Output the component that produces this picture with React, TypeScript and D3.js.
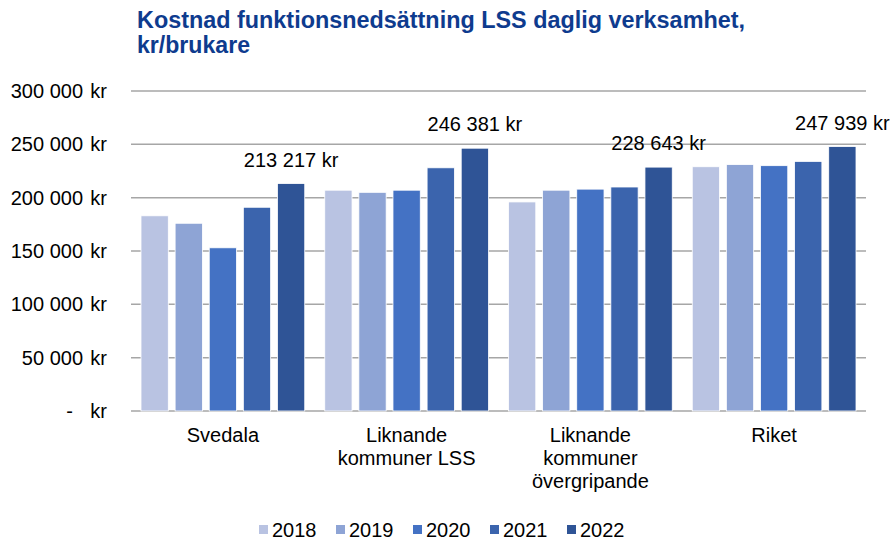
import { scaleBand, scaleLinear } from "d3"

const categories = [["Svedala"], ["Liknande", "kommuner LSS"], ["Liknande", "kommuner", "övergripande"], ["Riket"]]
const years = ["2018", "2019", "2020", "2021", "2022"]
const v2018 = [183000, 207000, 196000, 229000]
const v2019 = [176000, 205000, 207000, 231000]
const v2020 = [153000, 207000, 208000, 230000]
const v2021 = [191000, 228000, 210000, 234000]
const v2022 = [213217, 246381, 228643, 247939]
const yTicks = [0, 50000, 100000, 150000, 200000, 250000, 300000]
const colors = ["#B9C3E2", "#8EA4D5", "#4472C4", "#3B64AD", "#2F5496"]

const series = [v2018, v2019, v2020, v2021, v2022]
const fmt = (v: number) => String(v).replace(/\B(?=(\d{3})+(?!\d))/g, " ")
const FONT = "'Liberation Sans', Arial, sans-serif"

export default function App() {
  const W = 890, H = 540
  const left = 131, right = 866, top = 91, bottom = 411
  const catKeys = categories.map(c => c.join(" "))
  const x = scaleBand().domain(catKeys).range([left, right])
  const inner = scaleBand().domain(years).range([10, x.bandwidth() - 10]).paddingInner(0.2)
  const y = scaleLinear().domain([0, 300000]).range([bottom, top])

  return (
    <svg width={W} height={H} style={{ position: "absolute", left: 0, top: 0 }} fontFamily={FONT}>
      <rect width={W} height={H} fill="white" />
      <g fill="#0E3B8E" fontWeight="bold" fontSize="23" fontFamily="'Liberation Sans Narrow', 'Arial Narrow', 'Liberation Sans', sans-serif">
        <text x={137} y={28} textLength={608} lengthAdjust="spacingAndGlyphs">Kostnad funktionsnedsättning LSS daglig verksamhet,</text>
        <text x={137} y={53} textLength={113} lengthAdjust="spacingAndGlyphs">kr/brukare</text>
      </g>
      {yTicks.map(t => (
        <g key={t}>
          <line x1={left} x2={right} y1={y(t)} y2={y(t)} stroke="#A6A6A6" strokeWidth={1.5} />
          {t === 0
            ? <text x={73} y={y(t) + 7} textAnchor="end" fontSize="20">-</text>
            : <text x={83} y={y(t) + 7} textAnchor="end" fontSize="20">{fmt(t)}</text>}
          <text x={107} y={y(t) + 7} textAnchor="end" fontSize="20">kr</text>
        </g>
      ))}
      {catKeys.map((c, ci) => (
        <g key={c} transform={`translate(${x(c)},0)`}>
          {years.map((yr, si) => (
            <rect key={yr} x={inner(yr)} y={y(series[si][ci])} width={inner.bandwidth()}
              height={bottom - y(series[si][ci])} fill={colors[si]} stroke="white" strokeWidth={0.8} />
          ))}
          <text x={(inner("2022") ?? 0) + inner.bandwidth() / 2} y={y(v2022[ci]) - 17}
            textAnchor="middle" fontSize="20">{fmt(v2022[ci])} kr</text>
          {categories[ci].map((line, li) => (
            <text key={li} x={x.bandwidth() / 2} y={442 + li * 23} textAnchor="middle" fontSize="20">{line}</text>
          ))}
        </g>
      ))}
      {years.map((yr, i) => (
        <g key={yr} transform={`translate(${259 + i * 77},0)`}>
          <rect x={0} y={525} width={9} height={9} fill={colors[i]} />
          <text x={13} y={537} fontSize="20">{yr}</text>
        </g>
      ))}
    </svg>
  )
}
